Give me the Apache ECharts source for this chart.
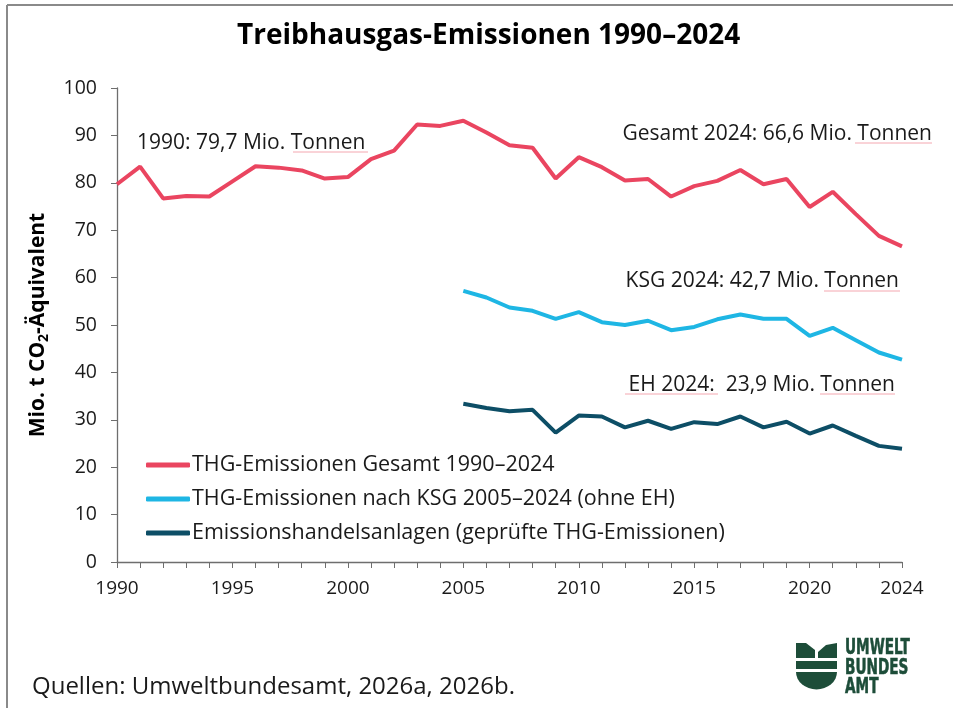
<!DOCTYPE html>
<html>
<head>
<meta charset="utf-8">
<title>Treibhausgas-Emissionen 1990–2024</title>
<script src="https://cdn.jsdelivr.net/npm/echarts@6/dist/echarts.min.js"></script>
<style>
  html, body { margin: 0; padding: 0; background: #fff; }
  #chart { width: 953px; height: 708px; }
</style>
</head>
<body>
<div id="chart"></div>
<script>
// Jahre
var years = ['1990','1991','1992','1993','1994','1995','1996','1997','1998','1999',
  '2000','2001','2002','2003','2004','2005','2006','2007','2008','2009',
  '2010','2011','2012','2013','2014','2015','2016','2017','2018','2019',
  '2020','2021','2022','2023','2024'];

// THG-Emissionen gesamt (Mio. t CO2-Äq.)
var gesamt = [79.7, 83.4, 76.7, 77.2, 77.1, 80.3, 83.5, 83.2, 82.6, 80.9,
  81.2, 85.0, 86.8, 92.3, 92.0, 93.1, 90.6, 87.9, 87.4, 80.9,
  85.4, 83.3, 80.5, 80.8, 77.1, 79.3, 80.4, 82.7, 79.7, 80.8,
  74.9, 78.1, 73.4, 68.8, 66.6];

// nach KSG ohne EH, ab 2005
var ksg = [57.2, 55.8, 53.7, 53.0, 51.3, 52.7, 50.6, 50.0, 50.9, 48.9,
  49.6, 51.2, 52.2, 51.3, 51.3, 47.7, 49.4, 46.8, 44.2, 42.7];

// Emissionshandel, ab 2005
var eh = [33.4, 32.5, 31.8, 32.1, 27.3, 30.9, 30.7, 28.4, 29.8, 28.1,
  29.5, 29.1, 30.7, 28.4, 29.6, 27.1, 28.8, 26.6, 24.5, 23.9];

var yTicks = [0, 10, 20, 30, 40, 50, 60, 70, 80, 90, 100];

// Lücke 1990-2004 auffüllen
var pad = [];
for (var i = 0; i < years.length - ksg.length; i++) pad.push(null);

var font = '"Open Sans", "Noto Sans", sans-serif';
var green = '#1d4d39';
var pink = '#f4a7b0';

// rote Rechtschreib-Unterstreichungen wie im Original
function squiggle(x1, x2, y) {
  return { type: 'line', shape: { x1: x1, y1: y, x2: x2, y2: y }, style: { stroke: pink, lineWidth: 1 } };
}

var myChart = echarts.init(document.getElementById('chart'));

var option = {
  backgroundColor: '#fff',
  animation: false,
  textStyle: { fontFamily: font },
  title: {
    text: 'Treibhausgas-Emissionen 1990–2024',
    left: 232,
    top: 17,
    textStyle: { fontSize: 28, fontWeight: 'bold', color: '#000', fontFamily: font }
  },
  legend: {
    orient: 'vertical',
    left: 141,
    top: 449,
    icon: 'roundRect',
    itemWidth: 44,
    itemHeight: 5,
    itemGap: 12,
    textStyle: { fontSize: 21.5, lineHeight: 22, color: '#1a1a1a', fontFamily: font, padding: [0, 0, 0, -3] },
    data: ['THG-Emissionen Gesamt 1990–2024',
      'THG-Emissionen nach KSG 2005–2024 (ohne EH)',
      'Emissionshandelsanlagen (geprüfte THG-Emissionen)']
  },
  grid: { left: 117, right: 51, top: 88, bottom: 146 },
  xAxis: {
    type: 'category',
    data: years,
    boundaryGap: false,
    axisLine: { lineStyle: { color: '#6e6e6e', width: 1.3 } },
    axisTick: { show: true, interval: 0, length: 6, lineStyle: { color: '#6e6e6e' } },
    axisLabel: {
      interval: 0,
      formatter: function (v, idx) {
        return (idx % 5 === 0 || idx === years.length - 1) ? v : '';
      },
      fontSize: 19,
      color: '#1a1a1a',
      margin: 17
    }
  },
  yAxis: {
    type: 'value',
    min: yTicks[0],
    max: yTicks[yTicks.length - 1],
    interval: 10,
    name: '{b|Mio. t CO}{s|2}{b|-Äquivalent}',
    nameLocation: 'middle',
    nameGap: 66,
    nameRotate: 90,
    nameTextStyle: {
      rich: {
        b: { fontSize: 21, fontWeight: 'bold', color: '#000', fontFamily: font },
        s: { fontSize: 14, fontWeight: 'bold', color: '#000', fontFamily: font, padding: [12, 0, 0, 0] }
      }
    },
    splitLine: { show: false },
    axisLine: { show: true, lineStyle: { color: '#6e6e6e', width: 1.3 } },
    axisTick: { show: true, length: 6, lineStyle: { color: '#6e6e6e' } },
    axisLabel: { fontSize: 19.5, color: '#1a1a1a', margin: 20 }
  },
  series: [
    {
      name: 'THG-Emissionen Gesamt 1990–2024',
      type: 'line',
      data: gesamt,
      showSymbol: false,
      symbol: 'none',
      lineStyle: { color: '#ea4560', width: 4 },
      itemStyle: { color: '#ea4560' }
    },
    {
      name: 'THG-Emissionen nach KSG 2005–2024 (ohne EH)',
      type: 'line',
      data: pad.concat(ksg),
      showSymbol: false,
      symbol: 'none',
      lineStyle: { color: '#1eb6e4', width: 4 },
      itemStyle: { color: '#1eb6e4' }
    },
    {
      name: 'Emissionshandelsanlagen (geprüfte THG-Emissionen)',
      type: 'line',
      data: pad.concat(eh),
      showSymbol: false,
      symbol: 'none',
      lineStyle: { color: '#0d4e66', width: 4 },
      itemStyle: { color: '#0d4e66' }
    }
  ],
  graphic: [
    // Rahmen
    { type: 'line', shape: { x1: 7, y1: 5, x2: 953, y2: 5 }, style: { stroke: '#8a8a8a', lineWidth: 2 } },
    { type: 'line', shape: { x1: 7, y1: 5, x2: 7, y2: 708 }, style: { stroke: '#8a8a8a', lineWidth: 2 } },
    // Beschriftungen
    { type: 'text', x: 137, y: 143, style: { text: '1990: 79,7 Mio. Tonnen', font: '21px ' + font, fill: '#1a1a1a', verticalAlign: 'middle' } },
    { type: 'text', x: 932, y: 134, style: { text: 'Gesamt 2024: 66,6 Mio. Tonnen', font: '21px ' + font, fill: '#1a1a1a', align: 'right', verticalAlign: 'middle' } },
    { type: 'text', x: 899, y: 281, style: { text: 'KSG 2024: 42,7 Mio. Tonnen', font: '21px ' + font, fill: '#1a1a1a', align: 'right', verticalAlign: 'middle' } },
    { type: 'text', x: 895, y: 385, style: { text: 'EH 2024:  23,9 Mio. Tonnen', font: '21px ' + font, fill: '#1a1a1a', align: 'right', verticalAlign: 'middle' } },
    squiggle(293, 368, 152),
    squiggle(855, 932, 143),
    squiggle(824, 900, 291),
    squiggle(625, 718, 394),
    squiggle(820, 895, 394),
    // Quelle
    { type: 'text', x: 32, y: 687, style: { text: 'Quellen: Umweltbundesamt, 2026a, 2026b.', font: '24px ' + font, fill: '#1a1a1a', verticalAlign: 'middle' } },
    // Logo
    { type: 'polygon', shape: { points: [[796, 643], [806, 643], [815, 650], [815, 658], [796, 658]] }, style: { fill: green } },
    { type: 'polygon', shape: { points: [[818, 658], [818, 652], [826, 645], [837, 643], [837, 658]] }, style: { fill: green } },
    { type: 'rect', shape: { x: 796, y: 661, width: 41, height: 8 }, style: { fill: green } },
    { type: 'sector', shape: { cx: 816.5, cy: 672, r0: 0, r: 20.5, startAngle: 0, endAngle: Math.PI, clockwise: true }, scaleY: 0.85, originX: 816.5, originY: 672, style: { fill: green } },
    { type: 'text', x: 845, y: 639, scaleX: 0.65, style: { text: 'UMWELT\nBUNDES\nAMT', font: 'bold 21px "DejaVu Sans", sans-serif', lineHeight: 19.5, fill: green, stroke: green, lineWidth: 0.6 } }
  ]
};

myChart.setOption(option);
</script>
</body>
</html>
